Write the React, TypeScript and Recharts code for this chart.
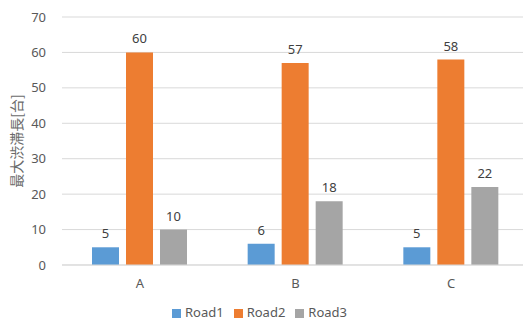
import { Bar, BarChart, CartesianGrid, LabelList, Legend, XAxis, YAxis } from "recharts";

const categories = ["A", "B", "C"];
const road1 = [5, 6, 5];
const road2 = [60, 57, 58];
const road3 = [10, 18, 22];
const yTicks = [0, 10, 20, 30, 40, 50, 60, 70];

const colors = {
  road1: "#5B9BD5",
  road2: "#ED7D31",
  road3: "#A5A5A5",
};

const font = "'Noto Sans', 'Noto Sans CJK JP', sans-serif";

const data = categories.map((name, i) => ({
  name,
  Road1: road1[i],
  Road2: road2[i],
  Road3: road3[i],
}));

const App = () => {
  return (
    <div style={{ position: "absolute", left: 0, top: 0, width: 523, height: 322, overflow: "hidden", background: "#fff" }}>
      <BarChart
        width={529}
        height={322}
        data={data}
        margin={{ top: 17, right: 0, bottom: 19, left: 0 }}
        barSize={27}
        barGap={7}
        style={{ fontFamily: font }}
      >
        <CartesianGrid vertical={false} stroke="#d9d9d9" />
        <XAxis
          dataKey="name"
          tickLine={false}
          axisLine={{ stroke: "#d9d9d9" }}
          tick={{ fill: "#595959", fontSize: 13 }}
          tickMargin={8}
          height={20}
        />
        <YAxis
          domain={[0, 70]}
          ticks={yTicks}
          width={62}
          tickLine={false}
          axisLine={false}
          tick={{ fill: "#595959", fontSize: 13 }}
          tickMargin={10}
          label={{
            value: "最大渋滞長[台]",
            angle: -90,
            position: "insideLeft",
            offset: 17,
            style: { textAnchor: "middle", fill: "#6b6b6b", fontSize: 14, fontFamily: "'Noto Sans CJK JP', sans-serif" },
          }}
        />
        <Legend
          verticalAlign="bottom"
          iconType="square"
          iconSize={9}
          wrapperStyle={{ fontSize: 13, color: "#595959", bottom: 1 }}
          formatter={(v) => <span style={{ color: "#595959" }}>{v}</span>}
        />
        <Bar dataKey="Road1" fill={colors.road1} isAnimationActive={false}>
          <LabelList dataKey="Road1" position="top" offset={9} fill="#404040" fontSize={13} />
        </Bar>
        <Bar dataKey="Road2" fill={colors.road2} isAnimationActive={false}>
          <LabelList dataKey="Road2" position="top" offset={9} fill="#404040" fontSize={13} />
        </Bar>
        <Bar dataKey="Road3" fill={colors.road3} isAnimationActive={false}>
          <LabelList dataKey="Road3" position="top" offset={9} fill="#404040" fontSize={13} />
        </Bar>
      </BarChart>
    </div>
  );
};

export default App;
